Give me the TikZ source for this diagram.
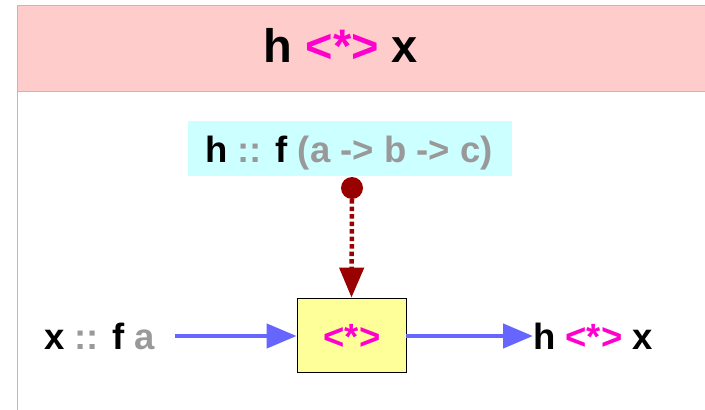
\documentclass[tikz,border=0pt]{standalone}
\usepackage{fontspec}
\setmainfont{Liberation Sans}
\usetikzlibrary{arrows.meta}
\definecolor{band}{HTML}{FFCCCC}
\definecolor{cyanbox}{HTML}{CCFFFF}
\definecolor{yel}{HTML}{FFFF99}
\definecolor{mag}{HTML}{FF00CC}
\definecolor{gry}{HTML}{999999}
\definecolor{blu}{HTML}{6666FF}
\definecolor{dred}{HTML}{990000}
\definecolor{frame}{HTML}{BBBBBB}
\tikzset{
  lbl/.style={font=\fontsize{36.5}{42}\selectfont\bfseries, inner sep=0pt, anchor=base},
  flow/.style={draw=blu, line width=4.5pt, -{Triangle[length=30pt,width=24pt]}},
}
\begin{document}
\begin{tikzpicture}[x=1pt,y=-1pt]
\useasboundingbox (0,0) rectangle (705,410);
\fill[band] (17,5) rectangle (705,91);
\draw[frame, line width=1pt] (705,5) -- (17,5) -- (17,410);
\draw[frame, line width=1pt] (17,91) -- (705,91);
\node[font=\fontsize{47}{54}\selectfont\bfseries, inner sep=0pt, anchor=base] (title) at (341,62) {h \textcolor{mag}{<*>} x};
\node[fill=cyanbox, minimum width=324pt, minimum height=55pt, inner sep=0pt] (sig) at (350,148.5) {};
\node[lbl] (sigtext) at (349,162) {h \textcolor{gry}{::} f \textcolor{gry}{(a -> b -> c)}};
\node[draw=black, line width=0.8pt, fill=yel, minimum width=109pt, minimum height=74pt, inner sep=0pt] (ap) at (351.5,335) {};
\node[font=\fontsize{36.5}{42}\selectfont\bfseries, text=mag, inner sep=0pt, anchor=base] (aptext) at (352,349) {<*>};
\node[fill=dred, circle, minimum size=22pt, inner sep=0pt] (dot) at (352,188) {};
\draw[dred, line width=4.5pt, dash pattern=on 4.5pt off 3pt, -{Triangle[length=30pt,width=24pt]}] (dot.south) -- (ap.north);
\node[lbl, anchor=base west] (xin) at (44,349) {x \textcolor{gry}{::} f \textcolor{gry}{a}};
\coordinate (xs) at (175,336);
\draw[flow] (xs) -- (ap.west |- xs);
\node[lbl, anchor=base west] (out) at (533,349) {h \textcolor{mag}{<*>} x};
\draw[flow] (ap.east |- xs) -- (out.west |- xs);
\end{tikzpicture}
\end{document}
